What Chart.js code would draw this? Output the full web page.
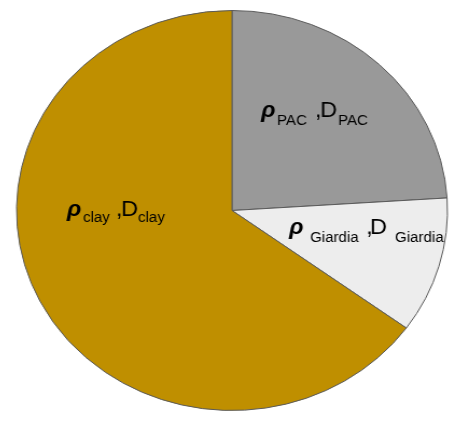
<!DOCTYPE html>
<html>
<head>
<meta charset="utf-8">
<script src="https://cdn.jsdelivr.net/npm/chart.js@4.4.1/dist/chart.umd.min.js"></script>
<style>
  html, body { margin: 0; padding: 0; background: #ffffff; }
  body { width: 460px; height: 426px; position: relative; overflow: hidden; }
  #c { position: absolute; left: 31px; top: 0px; width: 402px; height: 426px;
       transform: scaleX(1.0773); transform-origin: 201px 0px; }
</style>
</head>
<body>
<canvas id="c" width="402" height="426"></canvas>
<script>
// Data
const categories = ['PAC', 'Giardia', 'clay'];
const values = [24, 11, 65];
const sliceColors = ['#999999', '#EDEDED', '#BF8F00'];

// Label layout (display coordinates of each text piece)
const labelLayout = {
  PAC:     { rho: 261, sub1: 277, comma: 315, D: 320, sub2: 338, base: 117, subBase: 125 },
  Giardia: { rho: 289, sub1: 310, comma: 366, D: 370, sub2: 395, base: 234, subBase: 242 },
  clay:    { rho: 67,  sub1: 83,  comma: 116, D: 121, sub2: 138, base: 216, subBase: 222 }
};

const K = 1.0773, CX = 201, DX = 232;
function toCanvasX(X) { return CX + (X - DX) / K; }

const labelPlugin = {
  id: 'sliceLabels',
  afterDatasetsDraw(chart) {
    const ctx = chart.ctx;
    ctx.save();
    ctx.fillStyle = '#000000';
    ctx.textBaseline = 'alphabetic';
    ctx.textAlign = 'left';
    const big = '22px "Liberation Sans", Arial, sans-serif';
    const bigRho = 'italic bold 22px "Liberation Sans", Arial, sans-serif';
    const small = '14px "Liberation Sans", Arial, sans-serif';
    categories.forEach(name => {
      const L = labelLayout[name];
      ctx.font = bigRho;
      ctx.fillText('\u03C1', toCanvasX(L.rho), L.base);
      ctx.font = small;
      ctx.fillText(name, toCanvasX(L.sub1), L.subBase);
      ctx.font = big;
      ctx.fillText(',', toCanvasX(L.comma), L.base);
      ctx.fillText('D', toCanvasX(L.D), L.base);
      ctx.font = small;
      ctx.fillText(name, toCanvasX(L.sub2), L.subBase);
    });
    ctx.restore();
  }
};

new Chart(document.getElementById('c'), {
  type: 'pie',
  data: {
    labels: categories,
    datasets: [{
      data: values,
      backgroundColor: sliceColors,
      borderColor: '#5A5A5A',
      borderWidth: 1
    }]
  },
  options: {
    responsive: false,
    maintainAspectRatio: false,
    devicePixelRatio: 1,
    animation: false,
    layout: { padding: { top: 10, bottom: 15, left: 0, right: 0 } },
    plugins: {
      legend: { display: false },
      tooltip: { enabled: false }
    }
  },
  plugins: [labelPlugin]
});
</script>
</body>
</html>
